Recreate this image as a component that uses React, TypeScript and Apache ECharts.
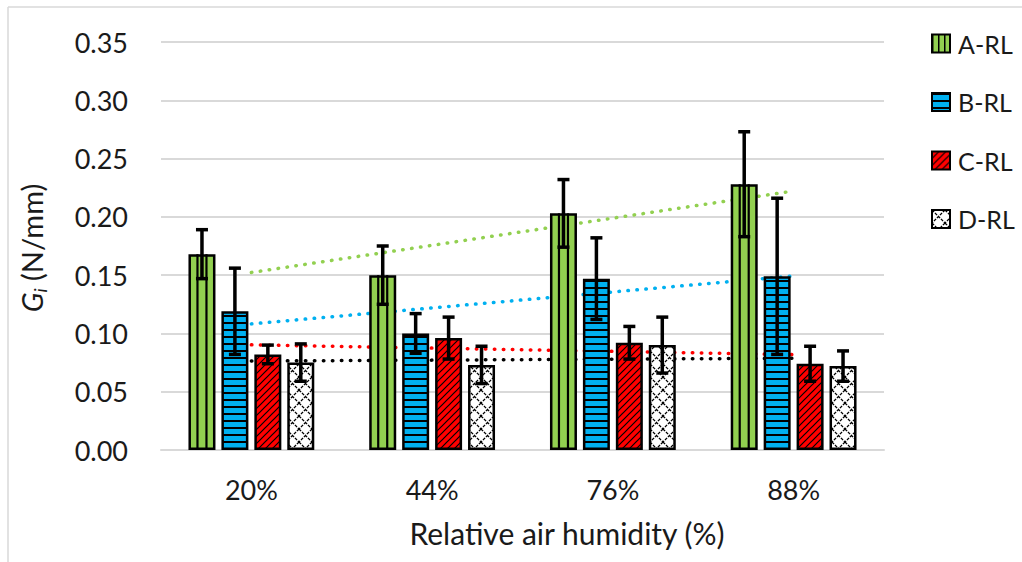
import React, { useEffect, useRef } from "react";
import * as echarts from "echarts";

const categories = ["20%", "44%", "76%", "88%"];
const seriesNames = ["A-RL", "B-RL", "C-RL", "D-RL"];
const valuesA = [0.168, 0.150, 0.203, 0.228];
const valuesB = [0.119, 0.100, 0.147, 0.149];
const valuesC = [0.082, 0.096, 0.092, 0.074];
const valuesD = [0.075, 0.073, 0.090, 0.072];
const errA = [0.021, 0.025, 0.029, 0.045];
const errB = [0.037, 0.017, 0.035, 0.067];
const errC = [0.008, 0.018, 0.014, 0.015];
const errD = [0.016, 0.016, 0.024, 0.013];
const yTicks = [0, 0.05, 0.1, 0.15, 0.2, 0.25, 0.3, 0.35];

const FONT = "Lato";
const TXT = "#1a1a1a";
const GRID = "#D9D9D9";
const BAR_W = 27;
const BAR_GAP = 0.22;
const colors = ["#92D050", "#00B0F0", "#FF0000", "#000000"];

function linFit(vals: number[]) {
  const n = vals.length;
  const xs = vals.map((_, i) => i + 1);
  const mx = xs.reduce((a, b) => a + b, 0) / n;
  const my = vals.reduce((a, b) => a + b, 0) / n;
  let sxy = 0, sxx = 0;
  for (let i = 0; i < n; i++) {
    sxy += (xs[i] - mx) * (vals[i] - my);
    sxx += (xs[i] - mx) * (xs[i] - mx);
  }
  const b = sxy / sxx;
  const a = my - b * mx;
  return xs.map((x) => a + b * x);
}

function makePattern(w: number, h: number, draw: (ctx: CanvasRenderingContext2D) => void) {
  const c = document.createElement("canvas");
  c.width = w;
  c.height = h;
  const ctx = c.getContext("2d") as CanvasRenderingContext2D;
  draw(ctx);
  return { image: c, repeat: "repeat" } as any;
}

export default function App() {
  const ref = useRef<HTMLDivElement>(null);
  useEffect(() => {
    if (!ref.current) return;
    const chart = echarts.init(ref.current, null, { renderer: "svg" });

    const patA = makePattern(6, 6, (ctx) => {
      ctx.fillStyle = "#92D050";
      ctx.fillRect(0, 0, 6, 6);
      ctx.fillStyle = "#000";
      ctx.fillRect(0, 0, 1.5, 6);
    });
    const patB = makePattern(4, 7, (ctx) => {
      ctx.fillStyle = "#00B0F0";
      ctx.fillRect(0, 0, 4, 7);
      ctx.fillStyle = "#000";
      ctx.fillRect(0, 0, 4, 2);
    });
    const patC = makePattern(7, 7, (ctx) => {
      ctx.fillStyle = "#FF0000";
      ctx.fillRect(0, 0, 7, 7);
      ctx.strokeStyle = "#000";
      ctx.lineWidth = 1.2;
      ctx.beginPath();
      ctx.moveTo(-1, 8); ctx.lineTo(8, -1);
      ctx.moveTo(-1, 1); ctx.lineTo(1, -1);
      ctx.moveTo(6, 8); ctx.lineTo(8, 6);
      ctx.stroke();
    });
    const patD = makePattern(13, 13, (ctx) => {
      ctx.fillStyle = "#FFFFFF";
      ctx.fillRect(0, 0, 13, 13);
      ctx.strokeStyle = "#000";
      ctx.lineWidth = 1.3;
      ctx.setLineDash([3, 1.2]);
      ctx.beginPath();
      ctx.moveTo(0, 0); ctx.lineTo(13, 13);
      ctx.moveTo(13, 0); ctx.lineTo(0, 13);
      ctx.stroke();
    });

    const values = [valuesA, valuesB, valuesC, valuesD];
    const errs = [errA, errB, errC, errD];
    const fills = ["#92D050", patB, patC, patD];
    const step = BAR_W * (1 + BAR_GAP);
    const offsets = [0, 1, 2, 3].map((i) => (i - 1.5) * step);

    const barSeries = values.map((vals, i) => ({
      name: seriesNames[i],
      type: "bar",
      data: vals,
      barWidth: BAR_W,
      barGap: BAR_GAP * 100 + "%",
      z: 2,
      itemStyle: { color: fills[i], borderColor: "#000", borderWidth: 2.5 },
    }));

    const trendSeries = values.map((vals, i) => ({
      name: seriesNames[i] + " trend",
      type: "line",
      data: linFit(vals),
      symbol: "none",
      z: 1,
      silent: true,
      lineStyle: { color: colors[i], width: 3.5, type: [0.5, 8.5], cap: "round" },
    }));

    const stripeSeries = {
      name: "A-RL stripes",
      type: "custom",
      z: 3,
      silent: true,
      data: valuesA.map((v, i) => [i, v]),
      renderItem: (params: any, api: any) => {
        const cat = api.value(0);
        const v = api.value(1);
        const top = api.coord([cat, v]);
        const bot = api.coord([cat, 0]);
        const x0 = top[0] + offsets[0] - BAR_W / 2;
        const xs = [x0 + BAR_W / 3, x0 + (2 * BAR_W) / 3];
        return {
          type: "group",
          children: xs.map((x) => ({
            type: "line",
            shape: { x1: x, y1: top[1], x2: x, y2: bot[1] },
            style: { stroke: "#000", lineWidth: 2.2 },
          })),
        };
      },
    };

    const errSeries = values.map((vals, i) => ({
      name: seriesNames[i] + " err",
      type: "custom",
      z: 4,
      silent: true,
      data: vals.map((v, j) => [j, v, errs[i][j]]),
      renderItem: (params: any, api: any) => {
        const cat = api.value(0);
        const v = api.value(1);
        const e = api.value(2);
        const hi = api.coord([cat, v + e]);
        const lo = api.coord([cat, v - e]);
        const x = hi[0] + offsets[i];
        const cw = 6;
        const st = { stroke: "#000", lineWidth: 3.5 };
        return {
          type: "group",
          children: [
            { type: "line", shape: { x1: x, y1: hi[1], x2: x, y2: lo[1] }, style: st },
            { type: "line", shape: { x1: x - cw, y1: hi[1], x2: x + cw, y2: hi[1] }, style: st },
            { type: "line", shape: { x1: x - cw, y1: lo[1], x2: x + cw, y2: lo[1] }, style: st },
          ],
        };
      },
    }));

    chart.setOption({
      animation: false,
      backgroundColor: "#FFFFFF",
      textStyle: { fontFamily: FONT },
      grid: { left: 161, right: 138, top: 42, bottom: 112 },
      legend: {
        orient: "vertical",
        left: 926,
        top: 26,
        icon: "rect",
        itemWidth: 18,
        itemHeight: 18,
        itemGap: 33.5,
        selectedMode: false,
        textStyle: { fontFamily: FONT, fontSize: 25, color: TXT, padding: [0, 0, 0, 3], lineHeight: 18 },
        data: [
          { name: "A-RL", itemStyle: { color: patA } },
          "B-RL",
          "C-RL",
          "D-RL",
        ],
      },
      xAxis: {
        type: "category",
        data: categories,
        axisTick: { show: false },
        axisLine: { lineStyle: { color: GRID, width: 2 } },
        axisLabel: { fontFamily: FONT, fontSize: 27, color: TXT, margin: 26 },
      },
      yAxis: {
        type: "value",
        min: yTicks[0],
        max: yTicks[yTicks.length - 1],
        interval: 0.05,
        axisLine: { show: false },
        axisTick: { show: false },
        splitLine: { lineStyle: { color: GRID, width: 2 } },
        axisLabel: {
          fontFamily: FONT,
          fontSize: 27,
          color: TXT,
          margin: 33,
          formatter: (v: number) => v.toFixed(2),
        },
      },
      graphic: [
        { type: "line", shape: { x1: 8, y1: 7, x2: 1022, y2: 7 }, style: { stroke: GRID, lineWidth: 1.5 } },
        { type: "line", shape: { x1: 8, y1: 7, x2: 8, y2: 562 }, style: { stroke: GRID, lineWidth: 1.5 } },
        {
          type: "text",
          x: 567,
          y: 533,
          style: {
            text: "Relative air humidity (%)",
            fontFamily: FONT,
            fontSize: 30,
            fill: TXT,
            align: "center",
            verticalAlign: "middle",
          },
        },
        {
          type: "text",
          x: 31,
          y: 248,
          rotation: Math.PI / 2,
          style: {
            text: "{g|G}{s|i}{n| (N/mm)}",
            fontFamily: FONT,
            fontSize: 29,
            fill: TXT,
            align: "center",
            verticalAlign: "middle",
            rich: {
              g: { fontFamily: FONT, fontSize: 29, fontStyle: "italic", fill: TXT, lineHeight: 36 },
              s: { fontFamily: FONT, fontSize: 18, fontStyle: "italic", fill: TXT, lineHeight: 24, verticalAlign: "bottom" },
              n: { fontFamily: FONT, fontSize: 29, fill: TXT, lineHeight: 36 },
            },
          },
        },
      ],
      series: [...trendSeries, ...barSeries, stripeSeries, ...errSeries],
    });
    return () => chart.dispose();
  }, []);
  return <div ref={ref} style={{ width: 1022, height: 562, position: "absolute", left: 0, top: 0 }} />;
}
